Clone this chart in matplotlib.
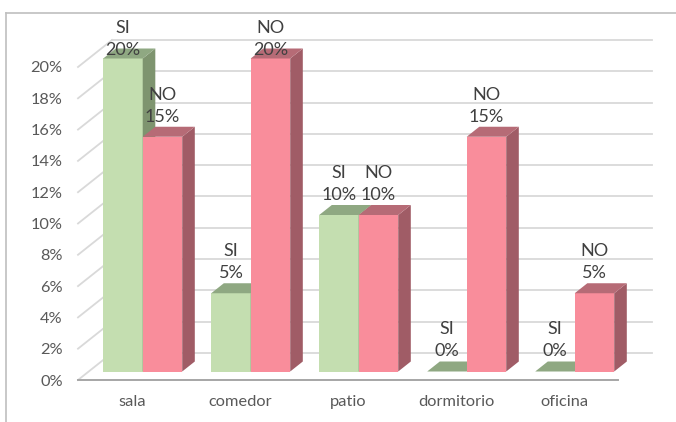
import numpy as np
import matplotlib.pyplot as plt
from matplotlib.patches import Polygon
from matplotlib.lines import Line2D

# data (percent)
categorias = ["sala", "comedor", "patio", "dormitorio", "oficina"]
si = [20, 5, 10, 0, 0]
no = [15, 20, 10, 15, 5]
yticks = [0, 2, 4, 6, 8, 10, 12, 14, 16, 18, 20]

plt.rcParams['font.family'] = ['Lato', 'DejaVu Sans']

fig = plt.figure(figsize=(6.76, 4.22), dpi=100)
W, H = 676, 422
# front plane of the floor: x -0.5..4.5, y 0..20
ax = fig.add_axes([78 / W, (H - 380) / H, 540 / W, 313 / H])
ax.set_xlim(-0.5, len(categorias) - 0.5)
ax.set_ylim(0, 20)
PX_X = 540 / len(categorias)   # px per category
PX_Y = 313 / 20                # px per percent


def depth(t):
    # shift in data units for t px of depth (oblique projection)
    return t * 1.26 / PX_X, t / PX_Y


# walls: left wall diagonals + back wall gridlines
wx, wy = depth(27)
x0, x1 = -0.5, len(categorias) - 0.5
for v in yticks:
    ax.plot([x0, x0 + wx], [v, v + wy], color="#d9d9d9", lw=1.3, clip_on=False, zorder=1)
    ax.plot([x0 + wx, x1 + wx], [v + wy, v + wy], color="#d9d9d9", lw=1.3, clip_on=False, zorder=1)
ax.plot([x0, x1], [0, 0], color="#a6a6a6", lw=1.4, clip_on=False, zorder=2)

# bars
bw = 39.5 / PX_X
fx, fy = depth(8.5)    # front face of the bars
bx, by = depth(10)     # bar thickness

colores = {
    "SI": ("#c4deb0", "#8fa882", "#7e946f"),
    "NO": ("#f98d9b", "#b66b76", "#a05c66"),
}


def barra(xl, v, serie):
    front, top, side = colores[serie]
    xl = xl + fx
    xr = xl + bw
    y0, y1 = fy, v + fy
    kw = dict(clip_on=False, lw=0, zorder=3)
    if v > 0:
        ax.add_patch(Polygon([(xl, y0), (xr, y0), (xr, y1), (xl, y1)], fc=front, **kw))
        ax.add_patch(Polygon([(xr, y0), (xr + bx, y0 + by), (xr + bx, y1 + by), (xr, y1)], fc=side, **kw))
    ax.add_patch(Polygon([(xl, y1), (xr, y1), (xr + bx, y1 + by), (xl + bx, y1 + by)], fc=top, **kw))


LABEL_TOP = 21.1
for i, (s, n) in enumerate(zip(si, no)):
    barra(i - bw, s, "SI")
    barra(i, n, "NO")
    for serie, v, xc in (("SI", s, i - bw / 2), ("NO", n, i + bw / 2)):
        yc = min(v + fy + 20 / PX_Y, LABEL_TOP)
        ax.text(xc + fx, yc, f"{v}%", ha="center", va="center", fontsize=13,
                color="#404040", zorder=5, clip_on=False)
        ax.text(xc + fx, yc + 22 / PX_Y, serie, ha="center", va="center", fontsize=13,
                color="#404040", zorder=5, clip_on=False)

ax.set_xticks(range(len(categorias)))
ax.set_xticklabels(categorias)
ax.set_yticks(yticks)
ax.set_yticklabels([f"{v}%" for v in yticks])
ax.tick_params(axis="x", length=0, pad=11, labelsize=11.8, labelcolor="#595959")
ax.tick_params(axis="y", length=0, pad=11, labelsize=11.8, labelcolor="#595959")
for sp in ax.spines.values():
    sp.set_visible(False)
ax.patch.set_visible(False)

# chart border
fig.add_artist(Line2D([6 / W, 1], [1 - 13 / H, 1 - 13 / H], color="#bfbfbf", lw=1.2))
fig.add_artist(Line2D([6 / W, 6 / W], [0, 1 - 13 / H], color="#bfbfbf", lw=1.2))

fig.savefig("out.png", dpi=100)
